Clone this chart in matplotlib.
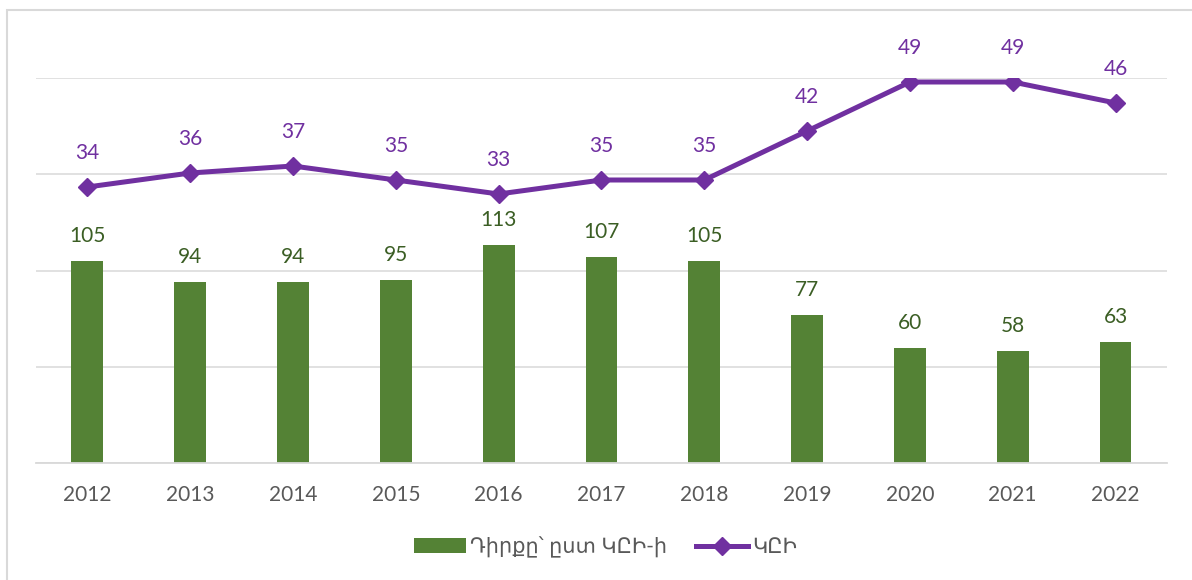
import matplotlib.pyplot as plt
from matplotlib.patches import Rectangle
import numpy as np

years = ["2012", "2013", "2014", "2015", "2016", "2017", "2018", "2019", "2020", "2021", "2022"]
rank = [105, 94, 94, 95, 113, 107, 105, 77, 60, 58, 63]
cpi = [34, 36, 37, 35, 33, 35, 35, 42, 49, 49, 46]

rank_label = "Դիրքը՝ ըստ ԿԸԻ-ի"
cpi_label = "ԿԸԻ"

GREEN = "#548235"
GREEN_TXT = "#3B5E24"
PURPLE = "#7030A0"
GRID = "#D9D9D9"
TICK = "#595959"

plt.rcParams["font.family"] = ["Lato", "DejaVu Sans"]

fig = plt.figure(figsize=(11.92, 5.8), dpi=100)
ax = fig.add_axes([0.0302, 0.2017, 0.9488, 0.6638])
x = np.arange(len(years))

bars = ax.bar(x, rank, width=0.31, color=GREEN, label=rank_label, zorder=2)
ax.set_ylim(0, 200)
ax.set_xlim(-0.5, len(years) - 0.5)
ax.set_yticks([0, 50, 100, 150, 200])
ax.yaxis.grid(True, color=GRID, linewidth=1.1, zorder=0)
ax.set_axisbelow(True)
ax.set_xticks(x)
ax.set_xticklabels(years)
ax.tick_params(axis="x", length=0, pad=16, labelsize=15, labelcolor=TICK)
for s in ["top", "right", "left"]:
    ax.spines[s].set_visible(False)
ax.spines["bottom"].set_color(GRID)
ax.spines["bottom"].set_linewidth(1.3)

for xi, v in zip(x, rank):
    ax.annotate(str(v), (xi, v), xytext=(0, 18), textcoords="offset points",
                ha="center", va="center", fontsize=15, color=GREEN_TXT)

ax2 = ax.twinx()
ax2.set_ylim(-5.43, 49.57)
line, = ax2.plot(x, cpi, color=PURPLE, linewidth=3.6, marker="D", markersize=9,
                 label=cpi_label, zorder=3)
ax2.axis("off")
for xi, v in zip(x, cpi):
    ax2.annotate(str(v), (xi, v), xytext=(0, 24.5), textcoords="offset points",
                 ha="center", va="center", fontsize=15, color=PURPLE)

# twinx turns the left ticks back on
ax.tick_params(axis="y", left=False, right=False, labelleft=False, labelright=False)

fig.legend([bars, line], [rank_label, cpi_label], loc="center",
           bbox_to_anchor=(0.508, 1 - 547 / 580), ncol=2, frameon=False,
           fontsize=15, labelcolor=TICK, handlelength=2.5, handletextpad=0.2,
           columnspacing=1.4, handleheight=0.7)

fig.patches.append(Rectangle((6.5 / 1192, -0.1), 1.2, 1.1 - 10.5 / 580,
                             transform=fig.transFigure, fill=False,
                             edgecolor=GRID, linewidth=1.5))

fig.savefig("out.png", dpi=100)
